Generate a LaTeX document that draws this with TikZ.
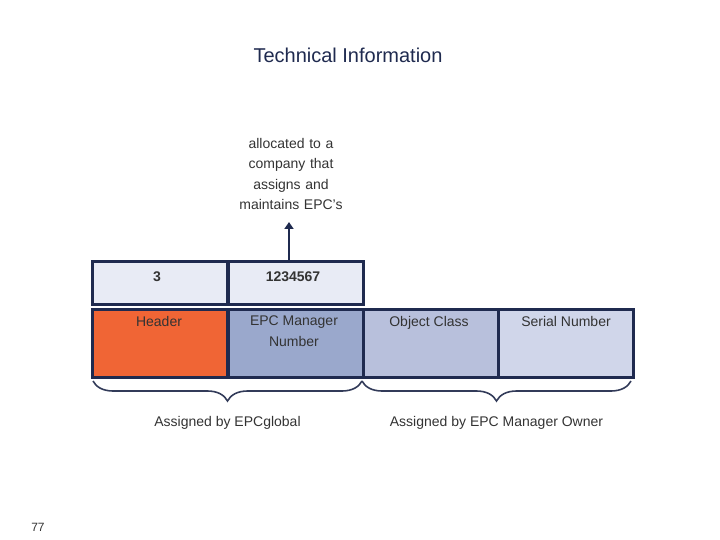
\documentclass[tikz,border=0pt]{standalone}
\usepackage{fontspec}
\setmainfont{Liberation Sans}
\usetikzlibrary{positioning,arrows.meta,decorations.pathreplacing}
\definecolor{navy}{HTML}{1F2A4F}
\definecolor{txt}{HTML}{333333}
\definecolor{hdr}{HTML}{F06535}
\definecolor{mgr}{HTML}{9AA8CC}
\definecolor{obj}{HTML}{B8C0DC}
\definecolor{ser}{HTML}{D0D6EA}
\definecolor{val}{HTML}{E8EBF5}
\newcommand{\lbl}{\fontsize{14}{20.5}\selectfont}

\begin{document}
\begin{tikzpicture}[x=1pt,y=-1pt,
  cell/.style={draw=navy, line width=2.5pt, anchor=north west, minimum width=135pt, inner sep=0pt},
  valcell/.style={cell, minimum height=43pt},
  field/.style={cell, minimum height=68pt},
  ftext/.style={font=\lbl, text=txt, align=center, anchor=north, inner sep=0pt},
  brace/.style={decorate, decoration={brace, mirror, amplitude=20pt}, line width=1.6pt, draw=navy!80!gray},
  arrow/.style={-{Triangle[width=9pt,length=7pt]}, line width=1.8pt, draw=navy}
]
\useasboundingbox (0,0) rectangle (720,540);

% Title
\node[font=\fontsize{20}{24}\selectfont, text=navy] (title) at (348,55) {Technical Information};

% Value row
\node[valcell, fill=val] (v1) at (91,260) {};
\node[valcell, fill=val] (v2) at (227,260) {};
\node[font=\bfseries\lbl, text=txt] at (157,277) {3};
\node[font=\bfseries\lbl, text=txt] at (293,277) {1234567};

% Field row
\node[field, fill=hdr] (f1) at (91,308) {};
\node[field, fill=mgr] (f2) at (227,308) {};
\node[field, fill=obj] (f3) at (362,308) {};
\node[field, fill=ser] (f4) at (497,308) {};
\node[ftext] at (159,316) {Header};
\node[ftext] at (294,316) {EPC Manager\\Number};
\node[ftext] at (429,316) {Object Class};
\node[ftext] at (566,316) {Serial Number};

% Allocation note
\node[ftext, text width=150pt] (alloc) at (291,138) {allocated to a\\company that\\assigns and\\maintains EPC's};
\coordinate (tip) at (289,222);
\draw[arrow] (v2.north west -| tip) -- (tip);

% Braces
\draw[brace] (93,381) -- node[ftext, yshift=-35pt] (gl) {Assigned by EPCglobal} (362,381);
\draw[brace] (362,381) -- node[ftext, yshift=-35pt] (ow) {Assigned by EPC Manager Owner} (631,381);

% Page number
\node[font=\fontsize{12}{14}\selectfont, text=txt] (page) at (38,527) {77};
\end{tikzpicture}
\end{document}
